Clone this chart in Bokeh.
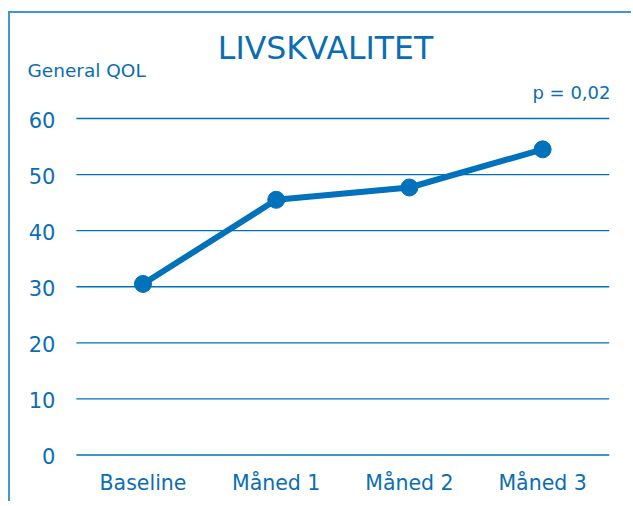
from bokeh.plotting import figure
from bokeh.models import Label, Range1d, FixedTicker
from bokeh.core.properties import value
from bokeh.embed import file_html
from bokeh.resources import INLINE

categories = ["Baseline", "Måned 1", "Måned 2", "Måned 3"]
qol_values = [30.5, 45.5, 47.7, 54.5]
y_ticks = [0, 10, 20, 30, 40, 50, 60]
title_text = "LIVSKVALITET"
y_title = "General QOL"
p_text = "p = 0,02"

BLUE = "#0071bb"
TEXT = "#0b6db4"
FRAME = "#4396d2"
FONT = "DejaVu Sans"

x_idx = list(range(len(categories)))

p = figure(width=623, height=490, output_backend="svg", toolbar_location=None,
           x_range=Range1d(-0.957, 3.622),
           y_range=Range1d(-2.407, 78.19),
           y_axis_location=None,
           min_border_left=5, min_border_right=8,
           min_border_top=3, min_border_bottom=35)
p.outline_line_color = None
p.background_fill_color = "white"
p.border_fill_color = "white"
p.styles = {"margin-left": "8px", "margin-top": "11px",
            "border-top": f"2px solid {FRAME}", "border-left": f"2px solid {FRAME}"}
p.xgrid.grid_line_color = None
p.ygrid.grid_line_color = None

# x axis (categories)
ax = p.xaxis[0]
ax.ticker = FixedTicker(ticks=x_idx)
ax.major_label_overrides = {i: c for i, c in zip(x_idx, categories)}
ax.axis_line_color = None
ax.major_tick_line_color = None
ax.minor_tick_line_color = None
ax.major_tick_out = 0
ax.major_tick_in = 0
ax.minor_tick_out = 0
ax.major_label_text_color = TEXT
ax.major_label_text_font = FONT
ax.major_label_text_font_size = "20.5px"
ax.major_label_standoff = 2

# horizontal grid lines spanning the category band
n = len(y_ticks)
x_lo = x_idx[0] - 0.5
x_hi = x_idx[-1] + 0.5
p.segment(x0=[x_lo] * n, y0=y_ticks, x1=[x_hi] * n, y1=y_ticks,
          line_color=BLUE, line_width=1.3)
# y tick labels
p.text(x=[x_lo] * n, y=y_ticks, text=[str(t) for t in y_ticks],
       x_offset=-21, y_offset=1, text_align="right", text_baseline="middle",
       text_font=value(FONT), text_font_size="21px", text_color=TEXT)

p.line(x_idx, qol_values, line_color=BLUE, line_width=6)
p.scatter(x_idx, qol_values, size=17, fill_color=BLUE, line_color=BLUE)

p.add_layout(Label(x=310, y=421, x_units="screen", y_units="screen",
                   text=title_text, text_align="center", text_baseline="middle",
                   text_font=FONT, text_font_size="31.5px", text_color=TEXT))
p.add_layout(Label(x=12, y=398, x_units="screen", y_units="screen",
                   text=y_title, text_align="left", text_baseline="middle",
                   text_font=FONT, text_font_size="18.5px", text_color=TEXT))
p.add_layout(Label(x=595, y=376, x_units="screen", y_units="screen",
                   text=p_text, text_align="right", text_baseline="middle",
                   text_font=FONT, text_font_size="18px", text_color=TEXT))

open("out.html", "w").write(file_html(p, INLINE))
